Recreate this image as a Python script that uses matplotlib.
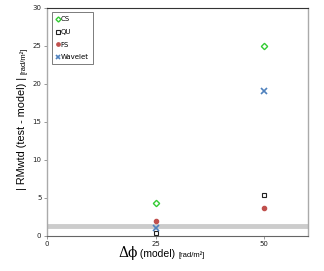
import numpy as np
import matplotlib.pyplot as plt

# data
x_vals = [25, 50]
cs = [4.3, 25.0]
qu = [0.3, 5.4]
fs = [1.9, 3.7]
wavelet = [1.0, 19.0]
band_y = 1.3

fig = plt.figure(figsize=(3.24, 2.71), dpi=100)
ax = fig.add_axes([0.145, 0.13, 0.805, 0.842])

ax.axhline(band_y, color="#cccccc", lw=3.5, zorder=1)

ax.plot(x_vals, cs, ls="none", marker="D", ms=3.2, mfc="none", mec="#33cc33", mew=1.0, label="CS", zorder=3)
ax.plot(x_vals, qu, ls="none", marker="s", ms=3.2, mfc="none", mec="#222222", mew=0.8, label="QU", zorder=3)
ax.plot(x_vals, fs, ls="none", marker="o", ms=3.0, color="#c0504d", label="FS", zorder=3)
ax.plot(x_vals, wavelet, ls="none", marker="x", ms=3.8, mec="#4f81bd", mew=1.2, label="Wavelet", zorder=3)

ax.set_xlim(0, 60)
ax.set_ylim(0, 30)
ax.set_xticks([0, 25, 50])
ax.set_yticks(np.arange(0, 31, 5))
ax.tick_params(labelsize=5, length=2, width=0.6, colors="#888888", labelcolor="#222222", pad=2)

for side in ["left", "right"]:
    ax.spines[side].set_color("#aaaaaa")
    ax.spines[side].set_linewidth(1.0)
ax.spines["bottom"].set_color("#666666")
ax.spines["top"].set_color("#333333")
ax.spines["bottom"].set_linewidth(0.8)
ax.spines["top"].set_linewidth(0.8)

leg = ax.legend(loc="upper left", fontsize=5, handlelength=0.5, handletextpad=0.2,
                borderpad=0.6, labelspacing=0.95, fancybox=False, framealpha=1,
                markerscale=0.8, edgecolor="#666666", bbox_to_anchor=(0.005, 0.995))
leg.get_frame().set_linewidth(0.6)

# axis labels built from pieces with different sizes
W, H = 324.0, 271.0
fig.canvas.draw()
r = fig.canvas.get_renderer()

# x label: left edge ~118 px
parts = [("Δϕ", 10, "DejaVu Serif"), (" (model) ", 7.5, "Liberation Sans"),
         ("[rad/m²]", 5.5, "Liberation Sans")]
xpos = 118.0
for s, size, fam in parts:
    t = fig.text(xpos / W, 1 - 257 / H, s, fontsize=size, family=fam, va="baseline", ha="left")
    xpos += t.get_window_extent(r).width

# y label: bottom ~190 px, x centre ~22 px
parts = [("| RMwtd (test - model) | ", 7.8), ("[rad/m²]", 5.5)]
ypos = 190.0
for s, size in parts:
    t = fig.text(25 / W, 1 - ypos / H, s, fontsize=size, family="Liberation Sans",
                 rotation=90, ha="left", va="baseline", rotation_mode="anchor")
    ypos -= t.get_window_extent(r).height

fig.savefig("out.png", dpi=100)
